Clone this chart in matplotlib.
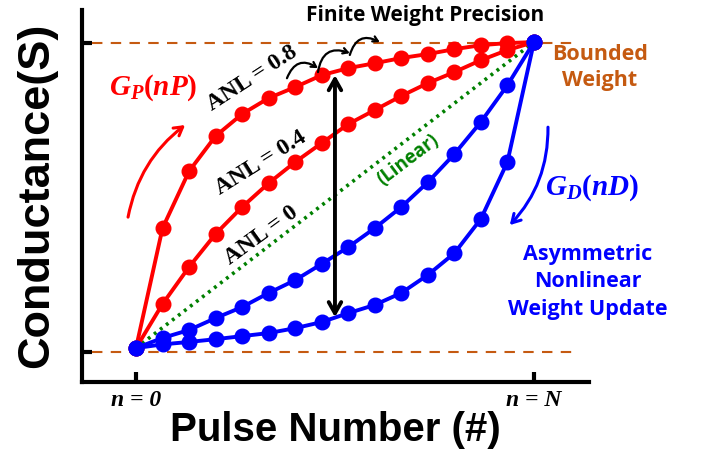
import matplotlib
matplotlib.use('Agg')
import matplotlib.pyplot as plt

# pulse index and normalised conductance
pulses = list(range(16))
g_anl08 = [0, 0.392, 0.578, 0.693, 0.765, 0.817, 0.853, 0.892, 0.915, 0.931,
           0.948, 0.961, 0.977, 0.990, 0.997, 1.0]
g_anl04 = [0, 0.144, 0.265, 0.373, 0.461, 0.539, 0.608, 0.670, 0.732, 0.778,
           0.824, 0.866, 0.902, 0.941, 0.974, 1.0]
g_dep_upper = [0, 0.033, 0.059, 0.098, 0.134, 0.180, 0.222, 0.275, 0.330, 0.392,
               0.461, 0.542, 0.634, 0.739, 0.859, 1.0]
g_dep_lower = [0, 0.012, 0.020, 0.029, 0.039, 0.049, 0.065, 0.085, 0.114, 0.141,
               0.180, 0.239, 0.310, 0.422, 0.608, 1.0]
linear_x = [0, 15]
linear_g = [0, 1.0]
bound_lo, bound_hi = -0.012, 0.997
xtick_pos = [0, 15]
xtick_labels = ['n = 0', 'n = N']

plt.rcParams['mathtext.fontset'] = 'custom'
plt.rcParams['mathtext.it'] = 'Liberation Serif:italic:bold'
plt.rcParams['mathtext.rm'] = 'Liberation Serif:bold'
plt.rcParams['mathtext.bf'] = 'Liberation Serif:bold'

red, blue, green, orange = '#FF0000', '#0000FF', '#008000', '#C55A11'
calibri = 'Open Sans'

fig = plt.figure(figsize=(7.01, 4.55), dpi=100)
ax = fig.add_axes([0.117, 0.1604, 0.723, 0.8176])
ax.set_xlim(-2.035, 17.07)
ax.set_ylim(-0.111, 1.105)

# bounds
ax.plot([-1.66, 16.5], [bound_hi, bound_hi], color=orange, lw=1.5, ls=(0, (5, 4)), zorder=1)
ax.plot([-1.66, 16.6], [bound_lo, bound_lo], color=orange, lw=1.5, ls=(0, (5, 4)), zorder=1)

ax.plot(linear_x, linear_g, color=green, lw=2.6, ls=(0, (0.8, 1.3)), zorder=2)
for g in (g_anl08, g_anl04):
    ax.plot(pulses, g, color=red, lw=2.8, marker='o', ms=10.5, zorder=3)
for g in (g_dep_upper, g_dep_lower):
    ax.plot(pulses, g, color=blue, lw=2.8, marker='o', ms=10.5, zorder=4)

# spines / ticks
for s in ('top', 'right'):
    ax.spines[s].set_visible(False)
for s in ('left', 'bottom'):
    ax.spines[s].set_linewidth(3)
ax.set_yticks([bound_lo, bound_hi])
ax.set_yticklabels([])
ax.set_xticks(xtick_pos)
ax.set_xticklabels(xtick_labels, fontsize=17, family='Liberation Serif',
                   weight='bold', style='italic')
ax.tick_params(direction='in', length=7, width=3, pad=6)

fig.text(0.052, 0.571, 'Conductance(S)', rotation=90, ha='center', va='center',
         family='Liberation Sans', weight='bold', fontsize=32.5)
fig.text(0.478, 0.055, 'Pulse Number (#)', ha='center', va='center',
         family='Liberation Sans', weight='bold', fontsize=29)

# annotations
ax.text(10.89, 1.088, 'Finite Weight Precision', ha='center', va='center',
        family=calibri, weight='bold', fontsize=15, clip_on=False)
ax.text(17.49, 0.918, 'Bounded\nWeight', ha='center', va='center', color=orange,
        family=calibri, weight='bold', fontsize=15.5, linespacing=1.3, clip_on=False)
ax.text(17.04, 0.216, 'Asymmetric\nNonlinear\nWeight Update', ha='center', va='center',
        color=blue, family=calibri, weight='bold', fontsize=15.5, linespacing=1.4, clip_on=False)
ax.text(0.64, 0.85, '$G_P(nP)$', color=red, ha='center', va='center', fontsize=21)
ax.text(17.19, 0.523, '$G_D(nD)$', color=blue, ha='center', va='center', fontsize=21,
        clip_on=False)
anl_kw = dict(ha='center', va='center', family='Liberation Serif', weight='bold',
              fontsize=17, rotation_mode='anchor')
ax.text(4.37, 0.882, 'ANL = 0.8', rotation=33, **anl_kw)
ax.text(4.71, 0.605, 'ANL = 0.4', rotation=32, **anl_kw)
ax.text(4.71, 0.369, 'ANL = 0', rotation=36, **anl_kw)
ax.text(10.25, 0.614, '(Linear)', rotation=37, ha='center', va='center', color=green,
        family=calibri, weight='bold', fontsize=13.5, rotation_mode='anchor')

ax.annotate('', xy=(7.5, 0.892), xytext=(7.5, 0.101),
            arrowprops=dict(arrowstyle='<->,head_width=0.45,head_length=0.8', lw=2.8,
                            color='black', shrinkA=0, shrinkB=0), zorder=5)
ax.annotate('', xy=(1.85, 0.729), xytext=(-0.30, 0.428),
            arrowprops=dict(arrowstyle='->,head_width=0.35,head_length=0.6', lw=2.2,
                            color=red, connectionstyle='arc3,rad=-0.19',
                            shrinkA=0, shrinkB=0))
ax.annotate('', xy=(14.09, 0.402), xytext=(15.53, 0.722),
            arrowprops=dict(arrowstyle='->,head_width=0.35,head_length=0.6', lw=2.2,
                            color=blue, connectionstyle='arc3,rad=-0.2',
                            shrinkA=0, shrinkB=0), annotation_clip=False)
steps = [((5.69, 0.882), (6.86, 0.915)),
         ((6.86, 0.902), (8.06, 0.964)),
         ((8.06, 0.958), (9.19, 1.0))]
for start, end in steps:
    ax.annotate('', xy=end, xytext=start,
                arrowprops=dict(arrowstyle='->,head_width=0.2,head_length=0.35', lw=1.6,
                                color='black', connectionstyle='arc3,rad=-0.6',
                                shrinkA=0, shrinkB=0))

fig.savefig('out.png', dpi=100)
